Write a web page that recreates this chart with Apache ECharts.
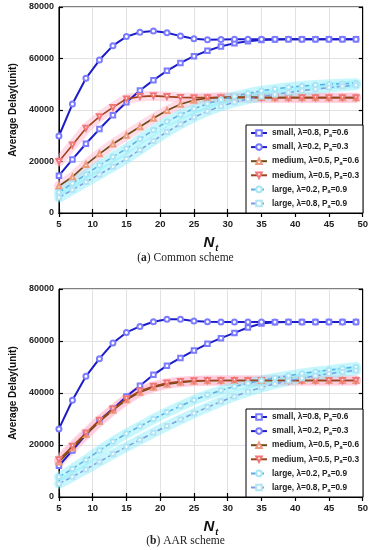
<!DOCTYPE html>
<html><head><meta charset="utf-8">
<script src="https://cdn.jsdelivr.net/npm/echarts@6/dist/echarts.min.js"></script>
<style>html,body{margin:0;padding:0;background:#fff}#c{width:371px;height:550px}</style>
</head><body><div id="c"></div>
<script>
// N_t values (x)
const nt = [5,7,9,11,13,15,17,19,21,23,25,27,29,31,33,35,37,39,41,43,45,47,49];
const seriesNames = ['small, λ=0.8, Pa=0.6','small, λ=0.2, Pa=0.3','medium, λ=0.5, Pa=0.6','medium, λ=0.5, Pa=0.3','large, λ=0.2, Pa=0.9','large, λ=0.8, Pa=0.9'];
const yTicks = [0,20000,40000,60000,80000];
const xTicks = [5,10,15,20,25,30,35,40,45,50];

// (a) Common scheme
const a_small08 = [14500,20800,26900,32600,38000,43000,47600,51600,55200,58300,60900,63000,64700,65900,66700,67200,67400,67500,67500,67500,67500,67500,67500];
const a_small02 = [29900,42300,52300,59400,65000,68500,70200,70700,70000,68700,67700,67300,67400,67500,67500,67500,67500,67500,67500,67500,67500,67500,67500];
const a_med06   = [10500,14000,18800,23000,26800,30200,33500,36800,39800,42200,43800,44600,44900,45000,45000,44900,44800,44800,44800,44800,44800,44800,44800];
const a_med03   = [20000,26400,32900,37400,41000,44300,45200,45500,45200,44900,44800,44800,44800,44800,44800,44800,44800,44800,44800,44800,44800,44800,44800];
const a_large02 = [8000,11500,15000,18500,21800,25000,28700,32200,35500,38200,40500,42400,44000,45300,46500,47500,48200,48800,49300,49700,50000,50200,50400];
const a_large08 = [6000,9000,12000,15000,18000,21000,24500,28000,31500,34500,37200,39500,41500,43000,44200,45200,46000,46800,47500,48100,48700,49200,49600];

// (b) AAR scheme
const b_small08 = [12000,17900,24000,29500,33900,38700,42800,47000,50500,53500,56300,58900,61100,63100,65200,66700,67200,67300,67300,67300,67300,67300,67300];
const b_small02 = [26200,37200,46400,53200,59200,63300,65600,67400,68400,68400,67700,67400,67300,67300,67300,67300,67300,67300,67300,67300,67300,67300,67300];
const b_med06   = [13500,18800,24000,29000,33400,37400,40300,42200,43400,44100,44500,44700,44800,44800,44800,44800,44800,44800,44800,44800,44800,44800,44800];
const b_med03   = [14300,19500,24600,29500,33800,37800,40800,42600,43800,44400,44700,44800,44800,44800,44800,44800,44800,44800,44800,44800,44800,44800,44800];
const b_large02 = [7700,10800,14300,17900,21300,24400,27200,30000,32600,35000,37300,39300,41000,42500,43700,44800,45800,46700,47500,48200,48800,49400,50000];
const b_large08 = [5100,7800,10600,13600,16500,19300,22000,24700,27300,29800,32200,34500,36700,38700,40500,42100,43500,44700,45700,46600,47400,48100,48700];

const pairs = v => nt.map((x,i)=>[x,v[i]]);
const FONT = '"Liberation Sans", Arial, sans-serif';

const styles = [
  {line:'#1c1cc8', mk:'#7b7bff', sym:'emptyRect', sz:4.5, w:2, type:'solid'},
  {line:'#1c1cc8', mk:'#7b7bff', sym:'emptyCircle', sz:5, w:2, type:'solid'},
  {line:'#6e4a14', mk:'#ee9a7c', sym:'emptyTriangle', sz:5, w:1.6, type:'solid', rot:0},
  {line:'#a0441c', mk:'#f07878', sym:'emptyTriangle', sz:5, w:1.6, type:'solid', rot:180},
  {line:'#5aaee6', mk:'#a8e6f6', sym:'emptyCircle', sz:4.5, w:1.5, type:[5,3]},
  {line:'#7c9ce4', mk:'#b4e4f4', sym:'emptyRect', sz:4, w:1.5, type:[5,3]}
];
const band = {2:'rgba(255,185,210,0.5)',3:'rgba(255,185,210,0.5)',4:'rgba(130,238,250,0.45)',5:'rgba(130,238,250,0.45)'};

function buildSeries(arrs, gi, tag){
  const out = [];
  arrs.forEach((arr,k)=>{
    if (band[k]) out.push({
      name:'band'+tag+k, type:'line', xAxisIndex:gi, yAxisIndex:gi, data:pairs(arr),
      showSymbol:false, symbol:'none', silent:true, z:1,
      lineStyle:{color:band[k], width:10, cap:'round'}
    });
  });
  arrs.forEach((arr,k)=>{
    const s = styles[k];
    out.push({
      name:seriesNames[k], type:'line', xAxisIndex:gi, yAxisIndex:gi, data:pairs(arr),
      symbol:s.sym, symbolSize:s.sz, symbolRotate:s.rot||0, showAllSymbol:true, z:3+k,
      itemStyle:{color:s.mk, borderWidth:1},
      lineStyle:{color:s.line, width:s.w, type:s.type}
    });
  });
  return out;
}

const grids = [{left:45, right:8, top:7, height:206}, {left:45, right:8, top:289, height:208}];

function xAx(gi, pos){
  return {type:'value', gridIndex:gi, min:5, max:50, interval:5, position:pos,
    axisLine:{show:true, lineStyle:{color:'#000', width:1}},
    axisTick:{show:true, inside:true, length:4, lineStyle:{color:'#000', width:1.2}},
    axisLabel:{show:pos==='bottom', color:'#222', fontFamily:FONT, fontWeight:'bold', fontSize:9.5, margin:6},
    splitLine:{show:pos==='bottom', lineStyle:{color:'#e2e2e2', width:1}},
    name: pos==='bottom' ? '{n|N}{t|t}' : '', nameLocation:'middle', nameGap:19,
    nameTextStyle:{rich:{n:{fontFamily:FONT, fontWeight:'bold', fontStyle:'italic', fontSize:15, color:'#111'},
                         t:{fontFamily:FONT, fontWeight:'bold', fontStyle:'italic', fontSize:9, color:'#111', padding:[12,0,0,1]}}}
  };
}
function yAx(gi, pos){
  return {type:'value', gridIndex:gi, min:0, max:80000, interval:20000, position:pos,
    axisLine:{show:true, lineStyle:{color:'#000', width:1}},
    axisTick:{show:true, inside:true, length:4, lineStyle:{color:'#000', width:1.2}},
    axisLabel:{show:pos==='left', color:'#222', fontFamily:FONT, fontWeight:'bold', fontSize:9, margin:5,
      formatter: v => String(v)},
    splitLine:{show:pos==='left', lineStyle:{color:'#e2e2e2', width:1}},
    name: pos==='left' ? 'Average Delay(unit)' : '', nameLocation:'middle', nameGap:35,
    nameTextStyle:{fontFamily:FONT, fontWeight:'bold', fontSize:10, color:'#111'}
  };
}

function legend(bottomPx){
  return {
    orient:'vertical', right:8, bottom:bottomPx, data:seriesNames,
    backgroundColor:'#fff', borderColor:'#000', borderWidth:1, borderRadius:0,
    padding:[4,4,4,4], itemGap:4.6, itemWidth:16, itemHeight:7,
    formatter: n => n.replace('Pa','P{sub|a}'),
    textStyle:{fontFamily:FONT, fontWeight:'bold', fontSize:8.3, color:'#222',
      rich:{sub:{fontFamily:FONT, fontWeight:'bold', fontSize:5.5, color:'#222', padding:[5,0,0,0]}}}
  };
}

const option = {
  animation:false,
  backgroundColor:'#fff',
  grid: grids.map(g=>Object.assign({show:true, borderColor:'#000', borderWidth:1, backgroundColor:'transparent'}, g)),
  xAxis:[xAx(0,'bottom'), xAx(1,'bottom'), xAx(0,'top'), xAx(1,'top')],
  yAxis:[yAx(0,'left'), yAx(1,'left'), yAx(0,'right'), yAx(1,'right')],
  legend:[legend(550-213), legend(550-497)],
  series:[].concat(
    buildSeries([a_small08,a_small02,a_med06,a_med03,a_large02,a_large08],0,'a'),
    buildSeries([b_small08,b_small02,b_med06,b_med03,b_large02,b_large08],1,'b')
  ),
  graphic:[
    {type:'text', left:'center', top:252, style:{text:'({b|a}) Common scheme', font:'11.5px "Liberation Serif", serif', fill:'#222',
      rich:{b:{font:'bold 11.5px "Liberation Serif", serif', fill:'#222'}}}},
    {type:'text', left:'center', top:535, style:{text:'({b|b}) AAR scheme', font:'11.5px "Liberation Serif", serif', fill:'#222',
      rich:{b:{font:'bold 11.5px "Liberation Serif", serif', fill:'#222'}}}}
  ]
};
const chart = echarts.init(document.getElementById('c'), null, {renderer:'canvas'});
chart.setOption(option);
</script></body></html>
